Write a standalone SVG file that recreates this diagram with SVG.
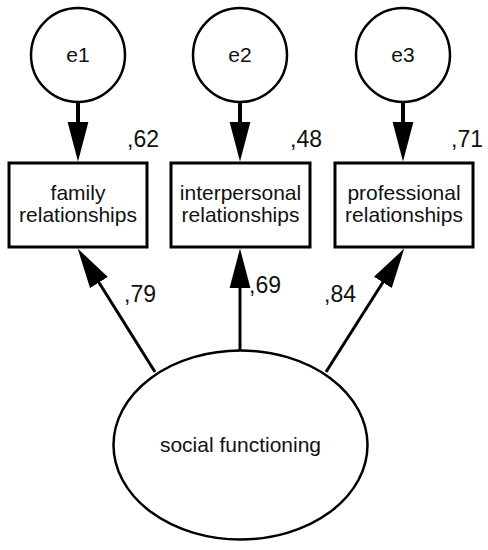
<svg xmlns="http://www.w3.org/2000/svg" width="488" height="550" viewBox="0 0 488 550">
<style>
  .shape { fill: #fff; stroke: #000; }
  .lbl { font-family: "Liberation Sans", Arial, sans-serif; font-size: 21px; fill: #111; text-anchor: middle; }
  .num { font-family: "Liberation Sans", Arial, sans-serif; font-size: 23px; fill: #111; }
  .conn { stroke: #000; fill: none; }
</style>
<defs>
  <marker id="arr" markerUnits="userSpaceOnUse" markerWidth="40" markerHeight="22" viewBox="0 0 38 20" refX="28" refY="10" orient="auto">
    <path d="M0,0 L38,10 L0,20 z" fill="#000"/>
  </marker>
</defs>
<rect width="488" height="550" fill="#fff"/>
<g id="connectors">
  <line class="conn" stroke-width="4" x1="78" y1="102" x2="78" y2="151" marker-end="url(#arr)"/>
  <line class="conn" stroke-width="4" x1="240" y1="102" x2="240" y2="151" marker-end="url(#arr)"/>
  <line class="conn" stroke-width="4" x1="403" y1="102" x2="403" y2="151" marker-end="url(#arr)"/>
  <line class="conn" stroke-width="3" x1="155" y1="372" x2="83.3" y2="257.5" marker-end="url(#arr)"/>
  <line class="conn" stroke-width="3" x1="240" y1="350" x2="240" y2="259" marker-end="url(#arr)"/>
  <line class="conn" stroke-width="3" x1="326" y1="372" x2="398.6" y2="257.5" marker-end="url(#arr)"/>
</g>
<g id="e1">
  <circle class="shape" stroke-width="2.5" cx="78" cy="55" r="47"/>
  <text class="lbl" x="78" y="62">e1</text>
</g>
<g id="e2">
  <circle class="shape" stroke-width="2.5" cx="240" cy="55" r="47"/>
  <text class="lbl" x="240" y="62">e2</text>
</g>
<g id="e3">
  <circle class="shape" stroke-width="2.5" cx="403" cy="55" r="47"/>
  <text class="lbl" x="403" y="62">e3</text>
</g>
<g id="family">
  <rect class="shape" stroke-width="3" x="9" y="163" width="138" height="84"/>
  <text class="lbl" x="78" y="200">family</text>
  <text class="lbl" x="78" y="222">relationships</text>
  <text class="num" x="127" y="147">,62</text>
</g>
<g id="interpersonal">
  <rect class="shape" stroke-width="3" x="171" y="163" width="139" height="84"/>
  <text class="lbl" x="240.5" y="200">interpersonal</text>
  <text class="lbl" x="240.5" y="222">relationships</text>
  <text class="num" x="290" y="147">,48</text>
</g>
<g id="professional">
  <rect class="shape" stroke-width="3" x="335" y="163" width="138" height="84"/>
  <text class="lbl" x="404" y="200">professional</text>
  <text class="lbl" x="404" y="222">relationships</text>
  <text class="num" x="451" y="147">,71</text>
</g>
<g id="social">
  <ellipse class="shape" stroke-width="2.5" cx="240.5" cy="445" rx="127" ry="94.5"/>
  <text class="lbl" x="240.5" y="452">social functioning</text>
</g>
<g id="loadings">
  <text class="num" x="124" y="302">,79</text>
  <text class="num" x="249" y="293">,69</text>
  <text class="num" x="324" y="302">,84</text>
</g>
</svg>
